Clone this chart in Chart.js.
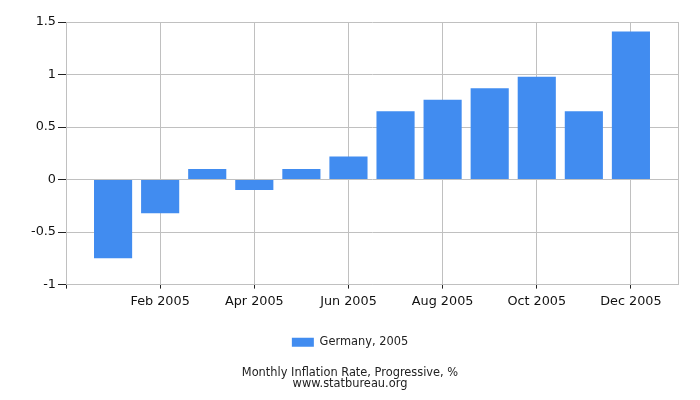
<!DOCTYPE html>
<html lang="en">
<head>
    <meta charset="UTF-8">
    <title>Monthly Inflation Rate, Progressive, %</title>
    <script src="https://cdn.jsdelivr.net/npm/chart.js"></script>
    <style>
        body { margin: 0; background: #fff; }
        .chart-container { width: 700px; height: 400px; }
    </style>
</head>
<body>
    <div class="chart-container">
        <canvas id="inflationChart"></canvas>
    </div>
    <script>
        // months of 2005 and monthly inflation (%)
        const months = ['Jan 2005', 'Feb 2005', 'Mar 2005', 'Apr 2005', 'May 2005', 'Jun 2005',
                        'Jul 2005', 'Aug 2005', 'Sep 2005', 'Oct 2005', 'Nov 2005', 'Dec 2005'];
        const values = [-0.75, -0.32, 0.1, -0.1, 0.1, 0.22, 0.65, 0.76, 0.87, 0.98, 0.65, 1.41];
        const seriesName = 'Germany, 2005';
        const titleLines = ['Monthly Inflation Rate, Progressive, %', 'www.statbureau.org'];

        // one empty slot either side so the axis runs Dec 2004 .. Jan 2006
        const labels = [''].concat(months, ['']);
        const data = [null].concat(values, [null]);
        const last = labels.length - 1;

        const fontFamily = '"DejaVu Sans", Verdana, sans-serif';
        const gridColor = '#c0c0c0';

        const ctx = document.getElementById('inflationChart').getContext('2d');
        new Chart(ctx, {
            type: 'bar',
            data: {
                labels: labels,
                datasets: [{
                    label: seriesName,
                    data: data,
                    backgroundColor: '#418CF0',
                    borderWidth: 0,
                    categoryPercentage: 1,
                    barPercentage: 0.81
                }]
            },
            options: {
                responsive: true,
                maintainAspectRatio: false,
                animation: false,
                layout: { padding: { top: 22, right: 0, left: 0, bottom: 3 } },
                plugins: {
                    legend: {
                        position: 'bottom',
                        labels: {
                            boxWidth: 22,
                            boxHeight: 9,
                            padding: 10,
                            color: '#222',
                            font: { family: fontFamily, size: 11.4 }
                        }
                    },
                    title: {
                        display: true,
                        position: 'bottom',
                        text: titleLines,
                        color: '#222',
                        font: { family: fontFamily, size: 11.4, weight: 'normal', lineHeight: 0.92 },
                        padding: { top: 10, bottom: 8 }
                    },
                    tooltip: { enabled: false }
                },
                scales: {
                    x: {
                        offset: false,
                        grid: {
                            offset: false,
                            color: c => (c.index % 2 === 0 || c.index === last) ? gridColor : 'rgba(0,0,0,0)',
                            tickColor: c => (c.index % 2 === 0 && c.index !== last) ? '#222' : 'rgba(0,0,0,0)',
                            tickLength: 4
                        },
                        border: { color: gridColor },
                        ticks: {
                            autoSkip: false,
                            maxRotation: 0,
                            padding: 5,
                            color: '#111',
                            font: { family: fontFamily, size: 12.8 },
                            callback: function (value, index) {
                                return (index % 2 === 0 && index > 0 && index < last) ? this.getLabelForValue(value) : '';
                            }
                        },
                        afterFit: s => { s.height = 42; }
                    },
                    y: {
                        min: -1,
                        max: 1.5,
                        grid: {
                            color: gridColor,
                            tickColor: '#222',
                            tickLength: 8
                        },
                        border: { color: gridColor },
                        ticks: {
                            stepSize: 0.5,
                            padding: 2,
                            color: '#111',
                            font: { family: fontFamily, size: 12.8 },
                            callback: v => String(+v.toFixed(2))
                        },
                        afterFit: s => { s.width = 66; }
                    },
                    // empty right-hand axis that only reserves the right margin
                    yRight: {
                        position: 'right',
                        grid: { drawOnChartArea: false, drawTicks: false },
                        border: { display: false },
                        ticks: { callback: () => '' },
                        afterFit: s => { s.width = 22; }
                    }
                }
            }
        });
    </script>
</body>
</html>
